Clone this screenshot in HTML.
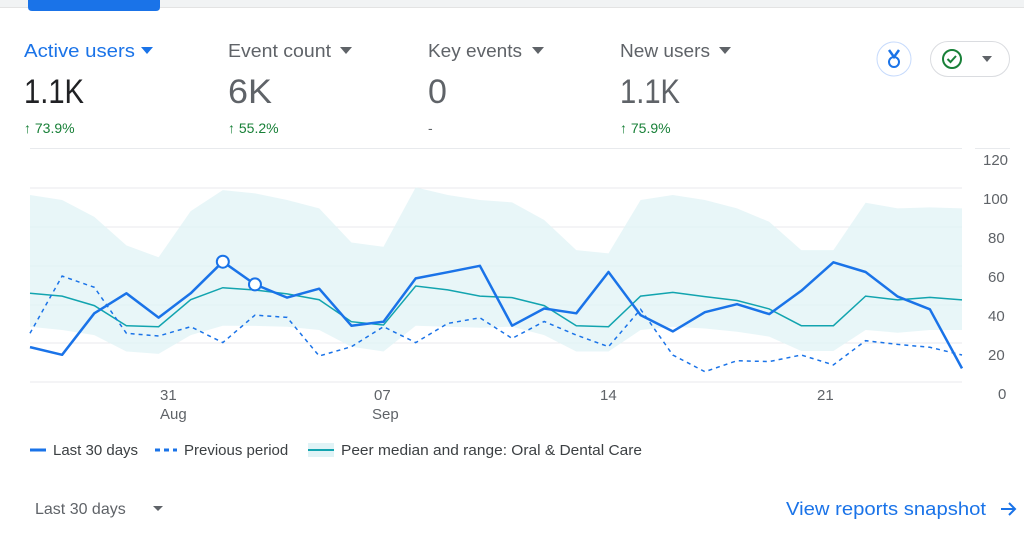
<!DOCTYPE html>
<html><head><meta charset="utf-8"><style>
html,body{margin:0;padding:0;background:#fff;}
svg{display:block;font-family:"Liberation Sans",Arial,sans-serif;}
</style></head><body>
<svg id="s" width="1024" height="540" viewBox="0 0 1024 540" xmlns="http://www.w3.org/2000/svg">
<rect x="0" y="0" width="1024" height="7" fill="#f1f3f4"/>
<line x1="0" y1="7.5" x2="1024" y2="7.5" stroke="#e3e3e3"/>
<path d="M28 0 H160 V7 Q160 11 156 11 H32 Q28 11 28 7 Z" fill="#1a73e8"/>
<g font-size="18">
<text x="24" y="57" fill="#1a73e8" textLength="111" lengthAdjust="spacingAndGlyphs">Active users</text>
<path d="M141 47 h12 l-6 7z" fill="#1a73e8"/>
<text x="228" y="57" fill="#5f6368" textLength="103" lengthAdjust="spacingAndGlyphs">Event count</text>
<path d="M340 47 h12 l-6 7z" fill="#5f6368"/>
<text x="428" y="57" fill="#5f6368" textLength="94" lengthAdjust="spacingAndGlyphs">Key events</text>
<path d="M532 47 h12 l-6 7z" fill="#5f6368"/>
<text x="620" y="57" fill="#5f6368" textLength="90" lengthAdjust="spacingAndGlyphs">New users</text>
<path d="M719 47 h12 l-6 7z" fill="#5f6368"/>
</g>
<g font-size="34">
<text x="24" y="103" fill="#202124" textLength="60" lengthAdjust="spacingAndGlyphs">1.1K</text>
<text x="228" y="103" fill="#5f6368" textLength="44" lengthAdjust="spacingAndGlyphs">6K</text>
<text x="428" y="103" fill="#5f6368">0</text>
<text x="620" y="103" fill="#5f6368" textLength="60" lengthAdjust="spacingAndGlyphs">1.1K</text>
</g>
<g font-size="14" fill="#188038">
<text x="24" y="133">↑ 73.9%</text>
<text x="228" y="133">↑ 55.2%</text>
<text x="428" y="133" fill="#5f6368">-</text>
<text x="620" y="133">↑ 75.9%</text>
</g>
<circle cx="894" cy="59" r="17" fill="#fff" stroke="#c6dafc"/>
<circle cx="894" cy="62" r="5" fill="none" stroke="#1a73e8" stroke-width="2"/>
<path d="M889 50 l5 7 l5 -7" fill="none" stroke="#1a73e8" stroke-width="2.5"/>
<rect x="930.5" y="41.5" width="79" height="35" rx="17.5" fill="#fff" stroke="#dadce0"/>
<circle cx="952" cy="59" r="9" fill="none" stroke="#188038" stroke-width="2"/>
<path d="M947.5 59 l3 3 l5.5 -6" fill="none" stroke="#188038" stroke-width="2"/>
<path d="M982 56 h10 l-5 6z" fill="#5f6368"/>
<g stroke="#e8eaed" stroke-width="1">
<line x1="30" y1="148.5" x2="962" y2="148.5"/><line x1="975" y1="148.5" x2="1010" y2="148.5"/>
<line x1="30" y1="188" x2="962" y2="188"/>
<line x1="30" y1="227" x2="962" y2="227"/>
<line x1="30" y1="266" x2="962" y2="266"/>
<line x1="30" y1="305" x2="962" y2="305"/>
<line x1="30" y1="343" x2="962" y2="343"/>
<line x1="30" y1="382" x2="962" y2="382"/>
</g>
<g id="ch"></g>
<g font-size="15" fill="#5f6368">
<text x="983" y="165">120</text><text x="983" y="204">100</text><text x="988" y="243">80</text>
<text x="988" y="282">60</text><text x="988" y="321">40</text><text x="988" y="360">20</text><text x="998" y="399">0</text>
<text x="160" y="400">31</text><text x="160" y="419">Aug</text>
<text x="374" y="400">07</text><text x="372" y="419">Sep</text>
<text x="600" y="400">14</text><text x="817" y="400">21</text>
</g>
<g font-size="15" fill="#3c4043">
<line x1="30" y1="450" x2="46" y2="450" stroke="#1a73e8" stroke-width="3"/>
<text x="53" y="455">Last 30 days</text>
<line x1="155" y1="450" x2="177" y2="450" stroke="#1a73e8" stroke-width="3" stroke-dasharray="5,4"/>
<text x="184" y="455">Previous period</text>
<rect x="308" y="443" width="26" height="14" fill="#e0f3f6"/>
<line x1="308" y1="450" x2="334" y2="450" stroke="#12a4af" stroke-width="2"/>
<text x="341" y="455" textLength="301" lengthAdjust="spacingAndGlyphs">Peer median and range: Oral &amp; Dental Care</text>
</g>
<text x="35" y="514" font-size="16" fill="#5f6368">Last 30 days</text>
<path d="M153 506 h10 l-5 5z" fill="#5f6368"/>
<text x="786" y="515" font-size="18" fill="#1a73e8" textLength="200" lengthAdjust="spacingAndGlyphs">View reports snapshot</text>
<path d="M1001 509 h14 M1009 503 l6 6 l-6 6" fill="none" stroke="#1a73e8" stroke-width="2"/>
</svg>
<script>
var main=[18,14,35.4,45.7,33.2,45.7,62,50.3,43.5,48.1,29,31.1,53.4,56.6,59.9,29,37.9,35.4,56.7,34.5,26.1,36,40.1,35,47,61.7,56.7,44,37.5,7];
var med=[45.7,44.3,39.4,29,28.5,42.4,48.6,47.4,45.4,42.4,31.1,29.4,49.5,47.5,44.3,43.5,39.4,29,28.5,44.3,46.2,44,42,37.7,29,29,44.3,42.3,43.6,42.3];
var up=[96.4,93.8,85.1,70.4,64.3,88.1,98.9,97.2,93.8,89.5,71.9,69.7,100.3,96.4,93.8,92.6,83.5,68,66.3,93.8,96.4,93.8,89.5,82.6,68,68,92.4,89.5,90,89.5];
var lo=[28.5,26.8,24.2,15.7,14.5,24.2,29,28.9,28.5,26.8,18.2,15.7,29,28.5,28,28.5,24.2,15.7,15.7,26.8,28.5,27.6,25.9,23.4,16,16,26.8,25.4,26.8,26.8];
var prev=[25.1,54.6,48.8,25.1,23.7,28.5,20.3,34.5,33.3,13.4,18.2,28.5,20.3,30.2,33.1,22.5,31.2,24.2,18.2,37.5,13.9,5.3,11,10.5,13.9,8.8,21.3,19.4,17.9,13.9];
function X(i){return 30+i*932/29}function Y(v){return 382-v*1.94}
function pts(a){return a.map(function(v,i){return X(i).toFixed(1)+','+Y(v).toFixed(1)}).join(' ')}
var band=pts(up)+' '+lo.slice().reverse().map(function(v,j){var i=lo.length-1-j;return X(i).toFixed(1)+','+Y(v).toFixed(1)}).join(' ');
var g=document.getElementById('ch');
g.innerHTML='<polygon points="'+band+'" fill="#e0f3f6" opacity="0.75"/>'+
'<polyline points="'+pts(med)+'" fill="none" stroke="#12a4af" stroke-width="1.5"/>'+
'<polyline points="'+pts(prev)+'" fill="none" stroke="#1a73e8" stroke-width="1.5" stroke-dasharray="4,4"/>'+
'<polyline points="'+pts(main)+'" fill="none" stroke="#1a73e8" stroke-width="2.5" stroke-linejoin="round"/>'+
'<circle cx="'+X(6)+'" cy="'+Y(62)+'" r="6" fill="#fff" stroke="#1a73e8" stroke-width="2"/>'+
'<circle cx="'+X(7)+'" cy="'+Y(50.3)+'" r="6" fill="#fff" stroke="#1a73e8" stroke-width="2"/>';
</script>
</body></html>
